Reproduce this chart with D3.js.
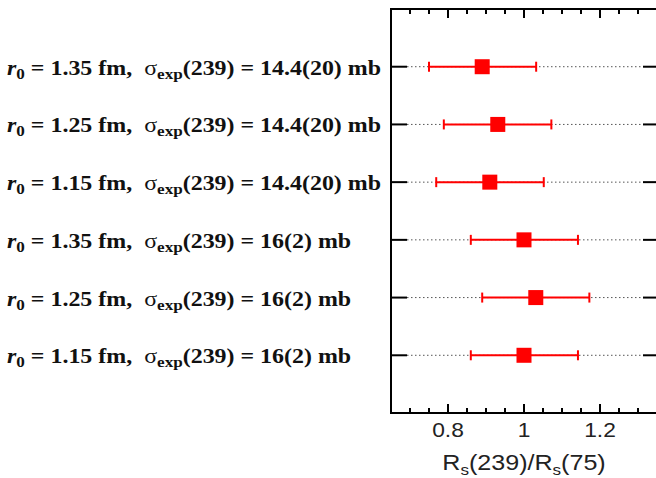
<!DOCTYPE html>
<html><head><meta charset="utf-8">
<script src="https://cdn.jsdelivr.net/npm/d3@7"></script>
<style>body{margin:0;background:#fff}svg{display:block}</style>
</head><body>
<script>
const r0Values = ["1.35","1.25","1.15","1.35","1.25","1.15"];
const sigmaLabels = ["14.4(20)","14.4(20)","14.4(20)","16(2)","16(2)","16(2)"];
const centers = [0.890, 0.931, 0.910, 1.000, 1.031, 1.000];
const lows    = [0.750, 0.789, 0.769, 0.860, 0.890, 0.860];
const highs   = [1.032, 1.072, 1.052, 1.142, 1.172, 1.142];
const xTicks = [0.8, 1, 1.2];

const W = 656, H = 478;
const svg = d3.select("body").append("svg").attr("width", W).attr("height", H);
const pL = 391, pR = 657, pT = 9, pB = 413;
const x = d3.scaleLinear().domain([0.65, 1.35]).range([pL, pR]);
const y = d3.scaleLinear().domain([0, 7]).range([pT, pB]);
const SX = 1.14; // horizontal stretch of the original's text

const rows = centers.map((c, i) => ({c, lo: lows[i], hi: highs[i], r0: r0Values[i], s: sigmaLabels[i], pos: i + 1}));

const minor = d3.range(0.7, 1.35, 0.05).map(v => +v.toFixed(2));
const g = svg.append("g");
minor.forEach(v => {
  const major = xTicks.some(t => Math.abs(t - v) < 1e-6);
  const len = major ? 9 : 5;
  g.append("line").attr("x1", x(v)).attr("x2", x(v)).attr("y1", pB).attr("y2", pB - len)
    .attr("stroke", "#000").attr("stroke-width", 2);
  g.append("line").attr("x1", x(v)).attr("x2", x(v)).attr("y1", pT).attr("y2", pT + len)
    .attr("stroke", "#000").attr("stroke-width", 2);
});

rows.forEach(d => {
  const yy = y(d.pos);
  g.append("line").attr("x1", pL).attr("x2", pL + 16).attr("y1", yy).attr("y2", yy)
    .attr("stroke", "#000").attr("stroke-width", 2);
  g.append("line").attr("x1", pR - 14).attr("x2", pR).attr("y1", yy).attr("y2", yy)
    .attr("stroke", "#000").attr("stroke-width", 2);
  g.append("line").attr("x1", pL + 16).attr("x2", pR - 14).attr("y1", yy).attr("y2", yy)
    .attr("stroke", "#555").attr("stroke-width", 1).attr("stroke-dasharray", "1.5,2.5");
});

const red = "#ff0000";
rows.forEach(d => {
  const yy = y(d.pos);
  g.append("line").attr("x1", x(d.lo)).attr("x2", x(d.hi)).attr("y1", yy).attr("y2", yy)
    .attr("stroke", red).attr("stroke-width", 2);
  [d.lo, d.hi].forEach(v => g.append("line").attr("x1", x(v)).attr("x2", x(v))
    .attr("y1", yy - 5).attr("y2", yy + 5).attr("stroke", red).attr("stroke-width", 2));
  g.append("rect").attr("x", x(d.c) - 7.5).attr("y", yy - 7.5).attr("width", 15).attr("height", 15)
    .attr("fill", red);
});

svg.append("rect").attr("x", pL).attr("y", pT).attr("width", pR - pL).attr("height", pB - pT)
  .attr("fill", "none").attr("stroke", "#000").attr("stroke-width", 2);

xTicks.forEach(t => {
  svg.append("text").attr("transform", `translate(${x(t)},437) scale(${SX},1)`).attr("text-anchor", "middle")
    .attr("font-family", "Liberation Sans, Arial, sans-serif").attr("font-size", 20).attr("fill", "#222")
    .text(t === 1 ? "1" : t.toFixed(1));
});

const tt = svg.append("text").attr("transform", `translate(${x(1)},470) scale(${SX},1)`).attr("text-anchor", "middle")
  .attr("font-family", "Liberation Sans, Arial, sans-serif").attr("font-size", 22).attr("fill", "#222");
tt.append("tspan").text("R");
tt.append("tspan").attr("dy", 5).attr("font-size", 15).text("s");
tt.append("tspan").attr("dy", -5).text("(239)/R");
tt.append("tspan").attr("dy", 5).attr("font-size", 15).text("s");
tt.append("tspan").attr("dy", -5).text("(75)");

rows.forEach(d => {
  const t = svg.append("text").attr("transform", `translate(7,${y(d.pos) + 8}) scale(${SX},1)`)
    .attr("font-family", "Liberation Serif, Times New Roman, serif").attr("font-weight", "bold")
    .attr("font-size", 21).attr("fill", "#111");
  t.append("tspan").attr("font-style", "italic").text("r");
  t.append("tspan").attr("dy", 4).attr("font-size", 15).text("0");
  t.append("tspan").attr("dy", -4).text("\u00a0= " + d.r0 + " fm,\u00a0\u00a0");
  t.append("tspan").attr("font-weight", "normal").text("\u03c3");
  t.append("tspan").attr("dy", 4).attr("font-size", 15).text("exp");
  t.append("tspan").attr("dy", -4).text("(239) = " + d.s + " mb");
});
</script>
</body></html>
